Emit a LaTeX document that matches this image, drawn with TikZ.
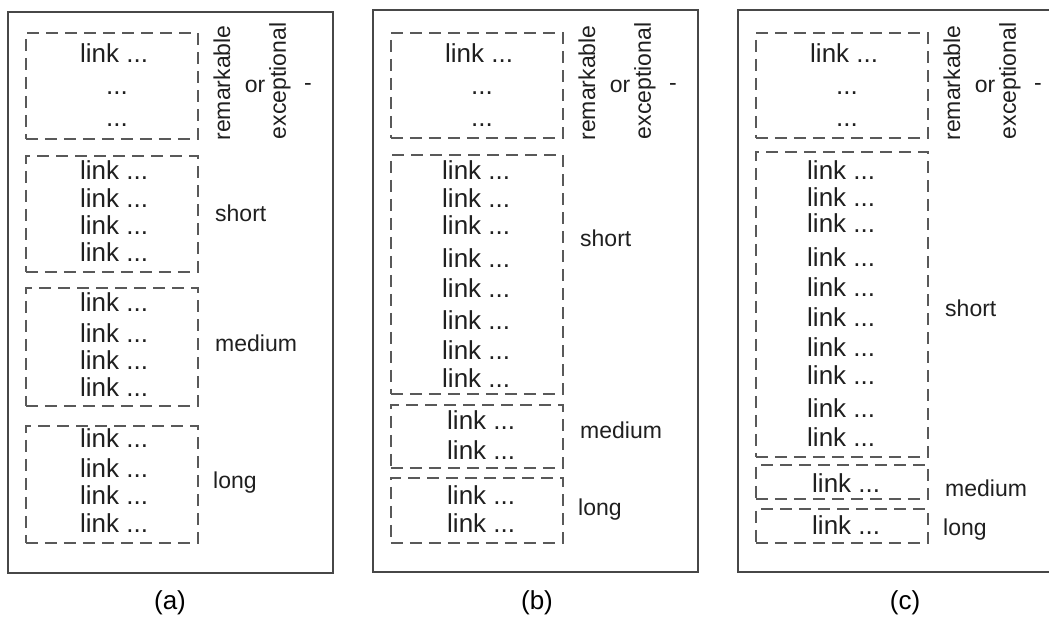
\documentclass[tikz,border=0pt]{standalone}
\usepackage{fontspec}
\setmainfont{Liberation Sans}
\usetikzlibrary{positioning}

\begin{document}
\begin{tikzpicture}[
    x=1pt, y=-1pt,
    panel/.style={draw=black!72, line width=1.6pt},
    grp/.style={draw=black!65, dash pattern=on 12pt off 7pt, line width=1.8pt, anchor=north west, inner sep=0pt, minimum width=172pt},
    lnk/.style={font=\fontsize{26}{28}\selectfont, inner sep=0pt, anchor=west, text=black!88},
    dots/.style={font=\fontsize{26}{28}\selectfont, inner sep=0pt, text=black!88},
    lbl/.style={font=\fontsize{23}{26}\selectfont, inner sep=0pt, anchor=west, text=black!88},
    vlbl/.style={font=\fontsize{23}{26}\selectfont, inner sep=0pt, rotate=90, text=black!88},
    caption/.style={font=\fontsize{26}{28}\selectfont, inner sep=0pt}
]
\useasboundingbox (0,0) rectangle (1049,621);

% Panel (a)
\draw[panel] (8,12) rectangle (333,573);
\node[grp, minimum height=106pt] (ar) at (25,32) {};
\node[grp, minimum height=116pt] (as) at (25,155) {};
\node[grp, minimum height=118pt] (am) at (25,287) {};
\node[grp, minimum height=117pt] (al) at (25,425) {};

\node[lnk] (ar1) at (80,53) {link ...};
\node[dots] (ar2) at (117,93) {...};
\node[dots] (ar3) at (117,125) {...};
\foreach \y [count=\i] in {170,198,225,252}
  \node[lnk] (as\i) at (80,\y) {link ...};
\foreach \y [count=\i] in {302,333,360,387}
  \node[lnk] (am\i) at (80,\y) {link ...};
\foreach \y [count=\i] in {438,468,495,523}
  \node[lnk] (al\i) at (80,\y) {link ...};

\node[vlbl] (arem) at (222,83) {remarkable};
\node[lbl, anchor=center] (aor) at (255,86) {or};
\node[vlbl] (aexc) at (280,81) {exceptional};
\node[lbl, anchor=center] (adash) at (308,87) {-};
\node[lbl] (ashort) at (215,213) {short};
\node[lbl] (amed) at (215,343) {medium};
\node[lbl] (along) at (213,483) {long};
\node[caption] (acap) at (170,603) {(a)};

% Panel (b)
\draw[panel] (373,10) rectangle (698,572);
\node[grp, minimum height=105pt] (br) at (390,32) {};
\node[grp, minimum height=239pt] (bs) at (390,154) {};
\node[grp, minimum height=63pt] (bm) at (390,404) {};
\node[grp, minimum height=65pt] (bl) at (390,477) {};

\node[lnk] (br1) at (445,53) {link ...};
\node[dots] (br2) at (482,93) {...};
\node[dots] (br3) at (482,125) {...};
\foreach \y [count=\i] in {170,198,225,258,288,320,350,378}
  \node[lnk] (bs\i) at (442,\y) {link ...};
\foreach \y [count=\i] in {420,450}
  \node[lnk] (bm\i) at (447,\y) {link ...};
\foreach \y [count=\i] in {495,523}
  \node[lnk] (bl\i) at (447,\y) {link ...};

\node[vlbl] (brem) at (587,83) {remarkable};
\node[lbl, anchor=center] (bor) at (620,86) {or};
\node[vlbl] (bexc) at (645,81) {exceptional};
\node[lbl, anchor=center] (bdash) at (673,87) {-};
\node[lbl] (bshort) at (580,238) {short};
\node[lbl] (bmed) at (580,430) {medium};
\node[lbl] (blong) at (578,510) {long};
\node[caption] (bcap) at (537,603) {(b)};

% Panel (c)
\draw[panel] (738,10) rectangle (1062,572);
\node[grp, minimum height=105pt] (cr) at (755,32) {};
\node[grp, minimum height=305pt] (cs) at (755,151) {};
\node[grp, minimum height=34pt] (cm) at (755,464) {};
\node[grp, minimum height=34pt] (cl) at (755,508) {};

\node[lnk] (cr1) at (810,53) {link ...};
\node[dots] (cr2) at (847,93) {...};
\node[dots] (cr3) at (847,125) {...};
\foreach \y [count=\i] in {170,197,223,257,287,317,347,375,408,437}
  \node[lnk] (cs\i) at (807,\y) {link ...};
\node[lnk] (cm1) at (812,483) {link ...};
\node[lnk] (cl1) at (812,525) {link ...};

\node[vlbl] (crem) at (952,83) {remarkable};
\node[lbl, anchor=center] (cor) at (985,86) {or};
\node[vlbl] (cexc) at (1010,81) {exceptional};
\node[lbl, anchor=center] (cdash) at (1038,87) {-};
\node[lbl] (cshort) at (945,308) {short};
\node[lbl] (cmed) at (945,488) {medium};
\node[lbl] (clong) at (943,530) {long};
\node[caption] (ccap) at (905,603) {(c)};

\end{tikzpicture}
\end{document}
